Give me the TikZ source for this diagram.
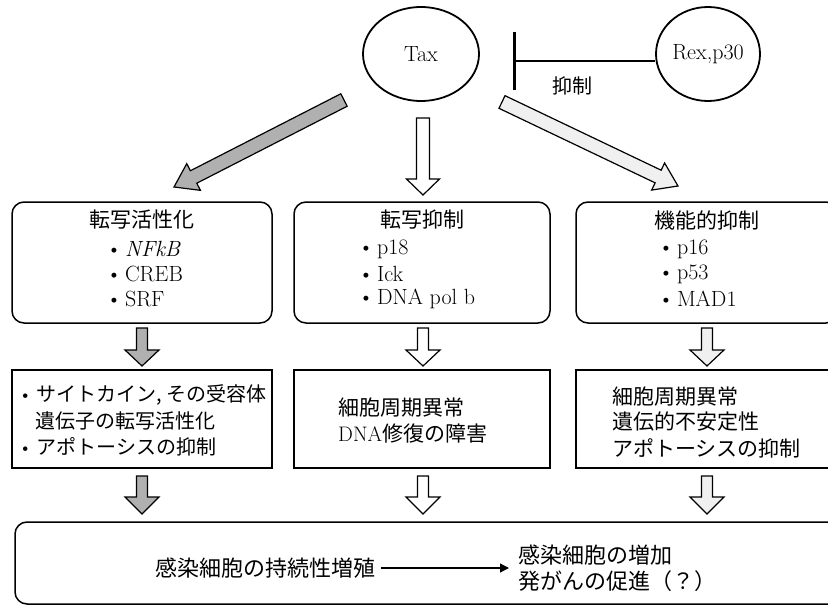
\documentclass[tikz,border=0pt]{standalone}
\usepackage{fontspec}
\newfontfamily\jp{Noto Sans CJK JP}
\usetikzlibrary{arrows.meta,calc,shapes.geometric}
\newcommand\blockarrow[6]{%
  \draw[barrow,fill=#3] ($(#1)!#4!90:(#2)$) -- ($(#2)!#6!(#1)!#4!-90:(#1)$) -- ($(#2)!#6!(#1)!#5!-90:(#1)$)
   -- (#2) -- ($(#2)!#6!(#1)!#5!90:(#1)$) -- ($(#2)!#6!(#1)!#4!90:(#1)$) -- ($(#1)!#4!-90:(#2)$) -- cycle;}
\tikzset{
  barrow/.style={line width=1.2pt, line join=miter},
  oval/.style={draw, ellipse, line width=1.8pt, inner sep=0pt, font=\fontsize{22}{26}\selectfont},
  rbox/.style={draw, line width=1.5pt, rounded corners=12pt, inner sep=0pt},
  sbox/.style={draw, line width=1.5pt, inner sep=0pt},
  lat/.style={inner sep=0pt, font=\fontsize{22}{26}\selectfont},
  jpt/.style={inner sep=0pt, font=\jp\fontsize{20}{26}\selectfont},
  jpm/.style={inner sep=0pt, font=\jp\fontsize{21}{26}\selectfont},
  jpb/.style={inner sep=0pt, font=\jp\fontsize{22}{26}\selectfont, align=left},
  conn/.style={line width=1.3pt, -{Triangle[length=9pt,width=9pt]}},
  inhib/.style={line width=2.8pt, -{Bar[width=58pt]}},
}
\begin{document}
\begin{tikzpicture}[x=1pt,y=-1pt]
\useasboundingbox (0,0) rectangle (828,613);
\clip (0,0) rectangle (828,613);
% top ovals
\node[oval, minimum width=116pt, minimum height=94pt] (tax) at (421,54) {Tax};
\node[oval, minimum width=104pt, minimum height=94pt] (rex) at (708,54) {Rex,p30};
\coordinate (bar) at (513,61);
\draw[inhib] (rex.west |- bar) -- (bar);
\node[jpt] (inh) at (572,86) {抑制};
% boxes row 1
\node[rbox, minimum width=260pt, minimum height=121pt] (b1) at (142,262.5) {};
\node[rbox, minimum width=256pt, minimum height=121pt] (b2) at (422,262.5) {};
\node[rbox, minimum width=262pt, minimum height=121pt] (b3) at (707,262.5) {};
% boxes row 2
\node[sbox, minimum width=260pt, minimum height=98pt] (c1) at (142,419) {};
\node[sbox, minimum width=256pt, minimum height=98pt] (c2) at (422,419) {};
\node[sbox, minimum width=262pt, minimum height=98pt] (c3) at (707,419) {};
% bottom box
\node[rbox, minimum width=830pt, minimum height=82pt] (d) at (430,563) {};
% big arrows
\coordinate (a1s) at (344,100); \coordinate (a1e) at (174,187);
\coordinate (a2s) at (423,118); \coordinate (a2e) at (423,195);
\coordinate (a3s) at (502,102); \coordinate (a3e) at (678,186);
\blockarrow{a1s}{a1e}{gray!62}{7pt}{15pt}{22pt}
\blockarrow{a2s}{a2e}{white}{6.5pt}{16.5pt}{16pt}
\blockarrow{a3s}{a3e}{gray!12}{7pt}{15pt}{22pt}
% small arrows
\coordinate (s1s) at (142,328); \coordinate (s1e) at (142,366);
\coordinate (s2s) at (423,328); \coordinate (s2e) at (423,366);
\coordinate (s3s) at (707,328); \coordinate (s3e) at (707,366);
\coordinate (u1s) at (142,476); \coordinate (u1e) at (142,514);
\coordinate (u2s) at (423,476); \coordinate (u2e) at (423,514);
\coordinate (u3s) at (707,476); \coordinate (u3e) at (707,514);
\blockarrow{s1s}{s1e}{gray!62}{5.5pt}{17pt}{16pt}
\blockarrow{s2s}{s2e}{white}{5.5pt}{17pt}{16pt}
\blockarrow{s3s}{s3e}{gray!12}{5.5pt}{17pt}{16pt}
\blockarrow{u1s}{u1e}{gray!62}{5.5pt}{17pt}{17pt}
\blockarrow{u2s}{u2e}{white}{5.5pt}{17pt}{17pt}
\blockarrow{u3s}{u3e}{gray!12}{5.5pt}{17pt}{17pt}
% row 1 texts
\node[jpm] (t1) at (142,220) {転写活性化};
\node[lat, anchor=west] (t1a) at (106,249) {\textbullet\hspace{3pt}\textit{NFkB}};
\node[lat, anchor=west] (t1b) at (106,274) {\textbullet\hspace{3pt}CREB};
\node[lat, anchor=west] (t1c) at (106,299) {\textbullet\hspace{3pt}SRF};
\node[jpm] (t2) at (422,220) {転写抑制};
\node[lat, anchor=west] (t2a) at (358,249) {\textbullet\hspace{3pt}p18};
\node[lat, anchor=west] (t2b) at (358,274) {\textbullet\hspace{3pt}Ick};
\node[lat, anchor=west] (t2c) at (358,299) {\textbullet\hspace{3pt}DNA pol b};
\node[jpm] (t3) at (707,220) {機能的抑制};
\node[lat, anchor=west] (t3a) at (658,249) {\textbullet\hspace{3pt}p16};
\node[lat, anchor=west] (t3b) at (658,274) {\textbullet\hspace{3pt}p53};
\node[lat, anchor=west] (t3c) at (658,299) {\textbullet\hspace{3pt}MAD1};
% row 2 texts
\node[jpt, anchor=west] (r1a) at (18,395) {{\rmfamily\textbullet}\hspace{4pt}サイトカイン, その受容体};
\node[jpt, anchor=west] (r1b) at (35,421) {遺伝子の転写活性化};
\node[jpt, anchor=west] (r1c) at (18,447) {{\rmfamily\textbullet}\hspace{4pt}アポトーシスの抑制};
\node[jpm, anchor=west] (r2a) at (338,408) {細胞周期異常};
\node[jpm, anchor=west] (r2b) at (338,434) {{\rmfamily DNA}修復の障害};
\node[jpm, anchor=west] (r3a) at (612,397) {細胞周期異常};
\node[jpm, anchor=west] (r3b) at (612,422) {遺伝的不安定性};
\node[jpm, anchor=west] (r3c) at (612,448) {アポトーシスの抑制};
% bottom texts
\node[jpb, anchor=east] (lt) at (376,568) {感染細胞の持続性増殖};
\node[jpb, anchor=west] (rt) at (518,568) {感染細胞の増加\\発がんの促進（？）};
\draw[conn, shorten <=5pt, shorten >=9pt] (lt.east) -- (rt.west);
\end{tikzpicture}
\end{document}
